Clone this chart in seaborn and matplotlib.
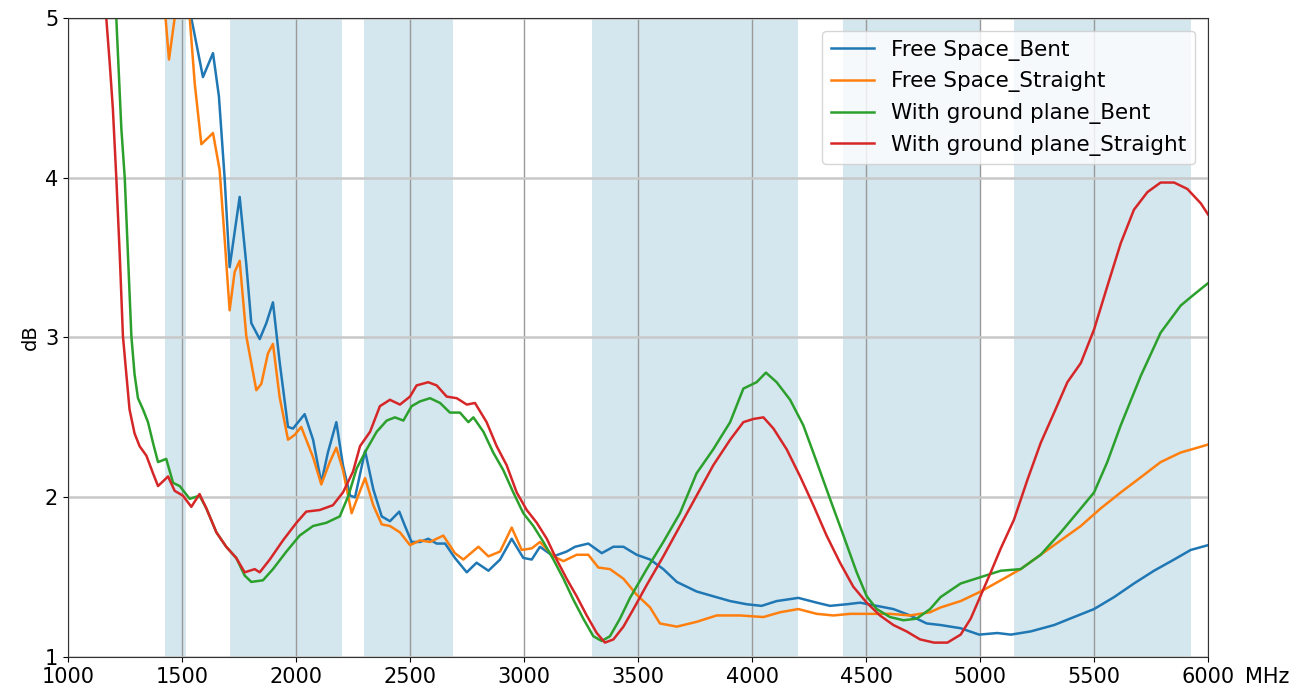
import numpy as np
import pandas as pd
import matplotlib
matplotlib.use("Agg")
import matplotlib.pyplot as plt
import seaborn as sns

# Frecuencias y valores (MHz, dB)
fs_bent_mhz = [1400, 1541, 1592, 1636, 1662, 1687, 1709, 1753, 1782, 1804, 1841, 1870, 1899,
               1928, 1965, 1987, 2038, 2075, 2111, 2140, 2177, 2206, 2237, 2259, 2303, 2339,
               2376, 2412, 2453, 2478, 2507, 2544, 2580, 2617, 2654, 2697, 2749, 2792, 2844,
               2895, 2946, 2997, 3034, 3070, 3129, 3187, 3224, 3282, 3341, 3392, 3436, 3494,
               3553, 3611, 3670, 3757, 3830, 3904, 3977, 4042, 4108, 4203, 4284, 4342, 4415,
               4474, 4547, 4620, 4693, 4766, 4827, 4915, 4996, 5076, 5135, 5222, 5325, 5412,
               5500, 5588, 5675, 5763, 5851, 5924, 6000]
fs_bent_db = [5.6, 5.0, 4.63, 4.78, 4.51, 4.0, 3.44, 3.88, 3.46, 3.09, 2.99, 3.09, 3.22,
              2.85, 2.44, 2.43, 2.52, 2.36, 2.09, 2.28, 2.47, 2.20, 2.01, 2.0, 2.29, 2.05,
              1.88, 1.85, 1.91, 1.82, 1.72, 1.72, 1.74, 1.71, 1.71, 1.62, 1.53, 1.59, 1.54,
              1.61, 1.74, 1.62, 1.61, 1.69, 1.63, 1.66, 1.69, 1.71, 1.65, 1.69, 1.69, 1.64,
              1.61, 1.55, 1.47, 1.41, 1.38, 1.35, 1.33, 1.32, 1.35, 1.37, 1.34, 1.32, 1.33,
              1.34, 1.32, 1.30, 1.26, 1.21, 1.20, 1.18, 1.14, 1.15, 1.14, 1.16, 1.20, 1.25,
              1.30, 1.375, 1.46, 1.54, 1.61, 1.67, 1.70]

fs_straight_mhz = [1400, 1428, 1443, 1468, 1500, 1534, 1556, 1585, 1607, 1636, 1665, 1687,
                   1709, 1731, 1753, 1782, 1826, 1848, 1877, 1899, 1928, 1965, 1994, 2023,
                   2075, 2111, 2148, 2177, 2206, 2244, 2273, 2303, 2339, 2376, 2412, 2456,
                   2500, 2544, 2588, 2646, 2697, 2734, 2800, 2844, 2895, 2946, 2990, 3034,
                   3070, 3129, 3173, 3231, 3282, 3326, 3377, 3436, 3494, 3553, 3596, 3670,
                   3757, 3845, 3947, 4050, 4123, 4203, 4284, 4357, 4430, 4518, 4605, 4693,
                   4781, 4827, 4915, 5003, 5091, 5178, 5266, 5354, 5442, 5529, 5617, 5705,
                   5792, 5880, 5953, 6000]
fs_straight_db = [5.5, 5.0, 4.74, 5.0, 5.4, 5.0, 4.59, 4.21, 4.24, 4.28, 4.05, 3.62,
                  3.17, 3.41, 3.48, 3.01, 2.67, 2.71, 2.90, 2.96, 2.63, 2.36, 2.39, 2.44,
                  2.25, 2.08, 2.22, 2.31, 2.17, 1.90, 2.01, 2.12, 1.95, 1.83, 1.82, 1.78,
                  1.70, 1.73, 1.72, 1.76, 1.65, 1.61, 1.69, 1.63, 1.66, 1.81, 1.67, 1.68,
                  1.72, 1.63, 1.60, 1.64, 1.64, 1.56, 1.55, 1.49, 1.39, 1.31, 1.21, 1.19,
                  1.22, 1.26, 1.26, 1.25, 1.28, 1.30, 1.27, 1.26, 1.27, 1.27, 1.27, 1.26,
                  1.28, 1.31, 1.35, 1.41, 1.48, 1.55, 1.64, 1.73, 1.82, 1.93, 2.03, 2.125,
                  2.22, 2.28, 2.31, 2.33]

gp_bent_mhz = [1190, 1212, 1234, 1249, 1263, 1278, 1292, 1307, 1329, 1351, 1373, 1395,
               1431, 1461, 1490, 1534, 1577, 1607, 1651, 1694, 1738, 1775, 1804, 1855,
               1899, 1958, 2016, 2075, 2133, 2192, 2230, 2266, 2310, 2354, 2398, 2434,
               2471, 2507, 2544, 2588, 2632, 2675, 2719, 2756, 2778, 2822, 2865, 2909,
               2953, 2997, 3041, 3085, 3129, 3173, 3216, 3260, 3304, 3341, 3377, 3421,
               3465, 3538, 3611, 3684, 3757, 3830, 3904, 3962, 4020, 4061, 4108, 4167,
               4225, 4284, 4342, 4401, 4459, 4503, 4547, 4605, 4664, 4722, 4781, 4827,
               4915, 5003, 5091, 5178, 5266, 5354, 5442, 5500, 5558, 5617, 5705, 5792,
               5880, 5939, 6000]
gp_bent_db = [5.6, 5.0, 4.31, 4.0, 3.52, 3.01, 2.77, 2.62, 2.55, 2.47, 2.34, 2.22,
              2.24, 2.09, 2.07, 1.99, 2.01, 1.93, 1.78, 1.69, 1.62, 1.51, 1.47, 1.48,
              1.55, 1.66, 1.76, 1.82, 1.84, 1.88, 2.01, 2.18, 2.30, 2.41, 2.48, 2.50,
              2.48, 2.57, 2.60, 2.62, 2.59, 2.53, 2.53, 2.47, 2.50, 2.41, 2.28, 2.17,
              2.03, 1.90, 1.82, 1.72, 1.61, 1.49, 1.36, 1.24, 1.13, 1.10, 1.13, 1.24,
              1.37, 1.55, 1.72, 1.90, 2.15, 2.30, 2.47, 2.68, 2.72, 2.78, 2.72, 2.61,
              2.45, 2.22, 1.99, 1.76, 1.53, 1.38, 1.30, 1.25, 1.23, 1.24, 1.30, 1.375,
              1.46, 1.50, 1.54, 1.55, 1.64, 1.78, 1.93, 2.03, 2.22, 2.45, 2.76, 3.03,
              3.20, 3.27, 3.34]

gp_straight_mhz = [1140, 1168, 1183, 1197, 1212, 1227, 1241, 1256, 1270, 1292, 1314, 1344,
                   1373, 1395, 1439, 1468, 1504, 1541, 1577, 1607, 1651, 1694, 1738, 1775,
                   1819, 1841, 1885, 1943, 2002, 2045, 2104, 2162, 2206, 2250, 2281, 2325,
                   2368, 2412, 2456, 2500, 2529, 2580, 2617, 2661, 2705, 2749, 2785, 2836,
                   2880, 2924, 2968, 3012, 3056, 3100, 3143, 3187, 3231, 3275, 3319, 3355,
                   3392, 3436, 3480, 3538, 3611, 3684, 3757, 3830, 3904, 3962, 4006, 4050,
                   4094, 4152, 4211, 4269, 4327, 4386, 4444, 4503, 4561, 4620, 4678, 4737,
                   4798, 4857, 4915, 4959, 5003, 5047, 5091, 5149, 5208, 5266, 5325, 5383,
                   5442, 5500, 5558, 5617, 5675, 5734, 5792, 5851, 5909, 5968, 6000]
gp_straight_db = [5.6, 5.0, 4.72, 4.43, 4.0, 3.52, 3.01, 2.77, 2.55, 2.40, 2.32, 2.26,
                  2.15, 2.07, 2.13, 2.04, 2.01, 1.94, 2.02, 1.93, 1.78, 1.69, 1.62, 1.53,
                  1.55, 1.53, 1.61, 1.73, 1.84, 1.91, 1.92, 1.95, 2.03, 2.16, 2.32, 2.41,
                  2.57, 2.61, 2.58, 2.63, 2.70, 2.72, 2.70, 2.63, 2.62, 2.58, 2.59, 2.47,
                  2.32, 2.20, 2.03, 1.92, 1.84, 1.74, 1.61, 1.49, 1.38, 1.26, 1.15, 1.09,
                  1.11, 1.19, 1.30, 1.45, 1.63, 1.82, 2.01, 2.20, 2.36, 2.47, 2.49, 2.50,
                  2.43, 2.30, 2.13, 1.95, 1.76, 1.59, 1.44, 1.34, 1.26, 1.20, 1.16, 1.11,
                  1.09, 1.09, 1.14, 1.24, 1.385, 1.53, 1.68, 1.86, 2.11, 2.34, 2.53, 2.72,
                  2.84, 3.05, 3.32, 3.59, 3.80, 3.91, 3.97, 3.97, 3.93, 3.84, 3.77]

series_names = ["Free Space_Bent", "Free Space_Straight",
                "With ground plane_Bent", "With ground plane_Straight"]
series_colors = ["#1f77b4", "#ff7f0e", "#2ca02c", "#d62728"]

# Bandas de frecuencia sombreadas (MHz)
band_start = [1427, 1710, 2300, 3300, 4400, 5150]
band_end = [1518, 2200, 2690, 4200, 5000, 5925]

# Tabla larga para seaborn
datos = pd.concat([
    pd.DataFrame({"MHz": fs_bent_mhz, "dB": fs_bent_db, "serie": series_names[0]}),
    pd.DataFrame({"MHz": fs_straight_mhz, "dB": fs_straight_db, "serie": series_names[1]}),
    pd.DataFrame({"MHz": gp_bent_mhz, "dB": gp_bent_db, "serie": series_names[2]}),
    pd.DataFrame({"MHz": gp_straight_mhz, "dB": gp_straight_db, "serie": series_names[3]}),
], ignore_index=True)

fig = plt.figure(figsize=(13.07, 6.92), dpi=100)
ax = fig.add_axes([0.052, 0.0506, 0.8723, 0.9234])

for x0, x1 in zip(band_start, band_end):
    ax.axvspan(x0, x1, color="#d4e6ee", zorder=0.2, linewidth=0)

sns.lineplot(data=datos, x="MHz", y="dB", hue="serie", hue_order=series_names,
             palette=series_colors, estimator=None, linewidth=1.8, ax=ax)

ax.set_xlim(1000, 6000)
ax.set_ylim(1, 5)
ax.set_xticks(np.arange(1000, 6001, 500))
ax.set_yticks([1, 2, 3, 4, 5])
ax.grid(axis="x", color="#9a9a9a", linewidth=1.0)
ax.grid(axis="y", color="#c8c8c8", linewidth=1.8)
ax.tick_params(labelsize=15)
for s in ax.spines.values():
    s.set_color("#333333")

ax.set_ylabel("dB", fontsize=14)
ax.set_xlabel("MHz", fontsize=15, ha="left", va="top")
ax.xaxis.set_label_coords(1.032, -0.0155)

ax.legend(loc="upper right", fontsize=15.5, title=None, framealpha=0.8,
          borderaxespad=0.6)

fig.savefig("out.png", dpi=100)
